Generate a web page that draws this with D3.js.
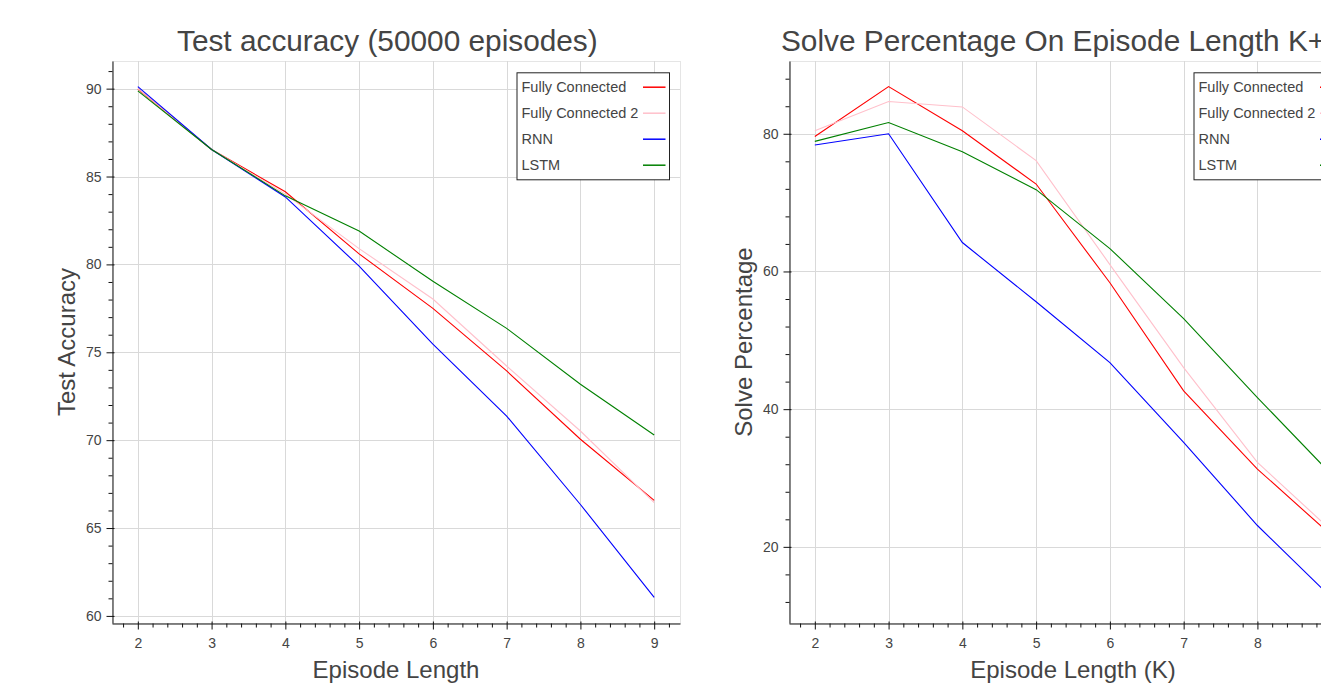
<!DOCTYPE html>
<html>
<head>
<meta charset="utf-8">
<script src="https://cdn.jsdelivr.net/npm/d3@7"></script>
<style>
  html, body { margin: 0; padding: 0; background: #fff; overflow: hidden; }
  svg { display: block; }
  text { font-family: 'Liberation Sans', Arial, Helvetica, sans-serif; }
</style>
</head>
<body>
<svg id="chart" width="1321" height="685"></svg>
<script>
// ---------- data ----------
const episodes = [2, 3, 4, 5, 6, 7, 8, 9];
const seriesNames = ["Fully Connected", "Fully Connected 2", "RNN", "LSTM"];
const seriesColors = ["red", "pink", "blue", "green"];

// Test accuracy (50000 episodes)
const accFC   = [89.98, 86.54, 84.13, 80.60, 77.50, 73.94, 70.05, 66.57];
const accFC2  = [90.00, 86.54, 84.00, 80.90, 78.03, 74.22, 70.52, 66.44];
const accRNN  = [90.12, 86.54, 83.84, 79.90, 75.46, 71.37, 66.34, 61.05];
const accLSTM = [89.87, 86.54, 83.90, 81.90, 79.04, 76.36, 73.18, 70.29];

// Solve percentage on episode length K+1
const solFC   = [79.60, 86.86, 80.43, 72.70, 58.36, 42.66, 31.30, 21.70];
const solFC2  = [80.43, 84.68, 83.90, 76.10, 61.00, 46.03, 32.27, 22.40];
const solRNN  = [78.36, 80.00, 64.20, 55.60, 46.77, 35.17, 23.10, 12.65];
const solLSTM = [78.90, 81.64, 77.40, 71.88, 63.33, 53.14, 41.69, 30.55];

// tick labels
const xTicks = [2, 3, 4, 5, 6, 7, 8, 9];
const accYTicks = [60, 65, 70, 75, 80, 85, 90];
const solYTicks = [20, 40, 60, 80];

// ---------- layout ----------
const FONT = "'Liberation Sans', Arial, Helvetica, sans-serif";
const TOP = 61, BOTTOM = 623;
const svg = d3.select("#chart");
svg.append("rect").attr("width", 1321).attr("height", 685).attr("fill", "#fff");

function padded(vals) {
  const [a, b] = d3.extent(vals);
  const p = (b - a) * 0.05;
  return [a - p, b + p];
}

function minorTicks(domain, step, majorStep) {
  const out = [];
  const start = Math.ceil(domain[0] / step - 1e-9);
  const end = Math.floor(domain[1] / step + 1e-9);
  for (let i = start; i <= end; i++) {
    const v = +(i * step).toFixed(6);
    const r = v / majorStep;
    if (Math.abs(r - Math.round(r)) > 1e-6) out.push(v);
  }
  return out;
}

function drawPanel(cfg) {
  const g = svg.append("g");
  const x = d3.scaleLinear().domain(padded(episodes)).range([cfg.x0, cfg.x1]);
  const allY = cfg.series.flat();
  const y = d3.scaleLinear().domain(padded(allY)).range([BOTTOM, TOP]);

  // frame outline
  g.append("rect")
    .attr("x", cfg.x0 + 0.5).attr("y", TOP + 0.5)
    .attr("width", cfg.x1 - cfg.x0).attr("height", BOTTOM - TOP)
    .attr("fill", "none").attr("stroke", "#e5e5e5").attr("stroke-width", 1);

  // grid
  g.append("g").selectAll("line").data(xTicks).join("line")
    .attr("x1", d => Math.round(x(d)) + 0.5).attr("x2", d => Math.round(x(d)) + 0.5)
    .attr("y1", TOP).attr("y2", BOTTOM)
    .attr("stroke", "#d9d9d9").attr("stroke-width", 1);
  g.append("g").selectAll("line").data(cfg.yTicks).join("line")
    .attr("y1", d => Math.round(y(d)) + 0.5).attr("y2", d => Math.round(y(d)) + 0.5)
    .attr("x1", cfg.x0).attr("x2", cfg.x1)
    .attr("stroke", "#d9d9d9").attr("stroke-width", 1);

  // lines
  const line = d3.line().x((d, i) => x(episodes[i])).y(d => y(d));
  g.append("g").selectAll("path").data(cfg.series).join("path")
    .attr("d", d => line(d))
    .attr("fill", "none")
    .attr("stroke", (d, i) => seriesColors[i])
    .attr("stroke-width", 1.1);

  // x axis
  const xMinor = minorTicks(x.domain(), 0.2, 1);
  const xAxisG = g.append("g").attr("transform", `translate(0,${BOTTOM + 0.5})`);
  xAxisG.append("g").call(d3.axisBottom(x).tickValues(xMinor).tickSize(4).tickFormat(""))
    .call(s => s.select(".domain").remove());
  const xa = xAxisG.append("g").call(d3.axisBottom(x).tickValues(xTicks).tickFormat(d3.format("d"))
    .tickSizeInner(6).tickSizeOuter(0).tickPadding(9));
  xa.selectAll(".tick line").attr("y1", -2);
  xAxisG.selectAll("line").attr("stroke", "#111");
  xAxisG.selectAll(".domain").attr("stroke", "#111");
  xa.selectAll("text").attr("fill", "#444").style("font-size", "14px").style("font-family", FONT);

  // y axis
  const yMinor = minorTicks(y.domain(), cfg.yMinorStep, cfg.yMajorStep);
  const yAxisG = g.append("g").attr("transform", `translate(${cfg.x0 + 0.5},0)`);
  yAxisG.append("g").call(d3.axisLeft(y).tickValues(yMinor).tickSize(4).tickFormat(""))
    .call(s => s.select(".domain").remove());
  const ya = yAxisG.append("g").call(d3.axisLeft(y).tickValues(cfg.yTicks).tickFormat(d3.format("d"))
    .tickSizeInner(6).tickSizeOuter(0).tickPadding(5));
  ya.selectAll(".tick line").attr("x1", 2);
  yAxisG.selectAll("line").attr("stroke", "#111");
  yAxisG.selectAll(".domain").attr("stroke", "#111");
  ya.selectAll("text").attr("fill", "#444").style("font-size", "14px").style("font-family", FONT);

  // title
  g.append("text").attr("x", cfg.titleX).attr("y", 51)
    .attr("text-anchor", "start").attr("fill", "#444")
    .style("font-size", cfg.titleSize + "px").text(cfg.title);

  // axis labels
  g.append("text").attr("x", (cfg.x0 + cfg.x1) / 2).attr("y", 678)
    .attr("text-anchor", "middle").attr("fill", "#444")
    .style("font-size", "24px").text(cfg.xLabel);
  g.append("text")
    .attr("transform", `translate(${cfg.x0 - 37},${(TOP + BOTTOM) / 2}) rotate(-90)`)
    .attr("text-anchor", "middle").attr("fill", "#444")
    .style("font-size", "24px").text(cfg.yLabel);

  // legend
  const lx = cfg.x1 - 163.5, ly = TOP + 11.3, lw = 152.5, lh = 107;
  const lg = g.append("g");
  lg.append("rect").attr("x", lx + 0.5).attr("y", ly + 0.5).attr("width", lw).attr("height", lh)
    .attr("fill", "#fff").attr("stroke", "#222").attr("stroke-width", 1);
  const items = lg.selectAll("g").data(seriesNames).join("g")
    .attr("transform", (d, i) => `translate(${lx},${ly + 14.4 + i * 26})`);
  items.append("text").attr("x", 5).attr("y", 0).attr("dy", "0.35em")
    .attr("fill", "#444").style("font-size", "14.5px").text(d => d);
  items.append("line").attr("x1", 126.5).attr("x2", 149).attr("y1", 0.5).attr("y2", 0.5)
    .attr("stroke", (d, i) => seriesColors[i]).attr("stroke-width", 1.5);
}

drawPanel({
  x0: 112, x1: 680,
  series: [accFC, accFC2, accRNN, accLSTM],
  yTicks: accYTicks, yMajorStep: 5, yMinorStep: 1,
  title: "Test accuracy (50000 episodes)", titleX: 177, titleSize: 29.8,
  xLabel: "Episode Length", yLabel: "Test Accuracy"
});
drawPanel({
  x0: 789, x1: 1357,
  series: [solFC, solFC2, solRNN, solLSTM],
  yTicks: solYTicks, yMajorStep: 20, yMinorStep: 4,
  title: "Solve Percentage On Episode Length K+1", titleX: 781, titleSize: 29.8,
  xLabel: "Episode Length (K)", yLabel: "Solve Percentage"
});
</script>
</body>
</html>
